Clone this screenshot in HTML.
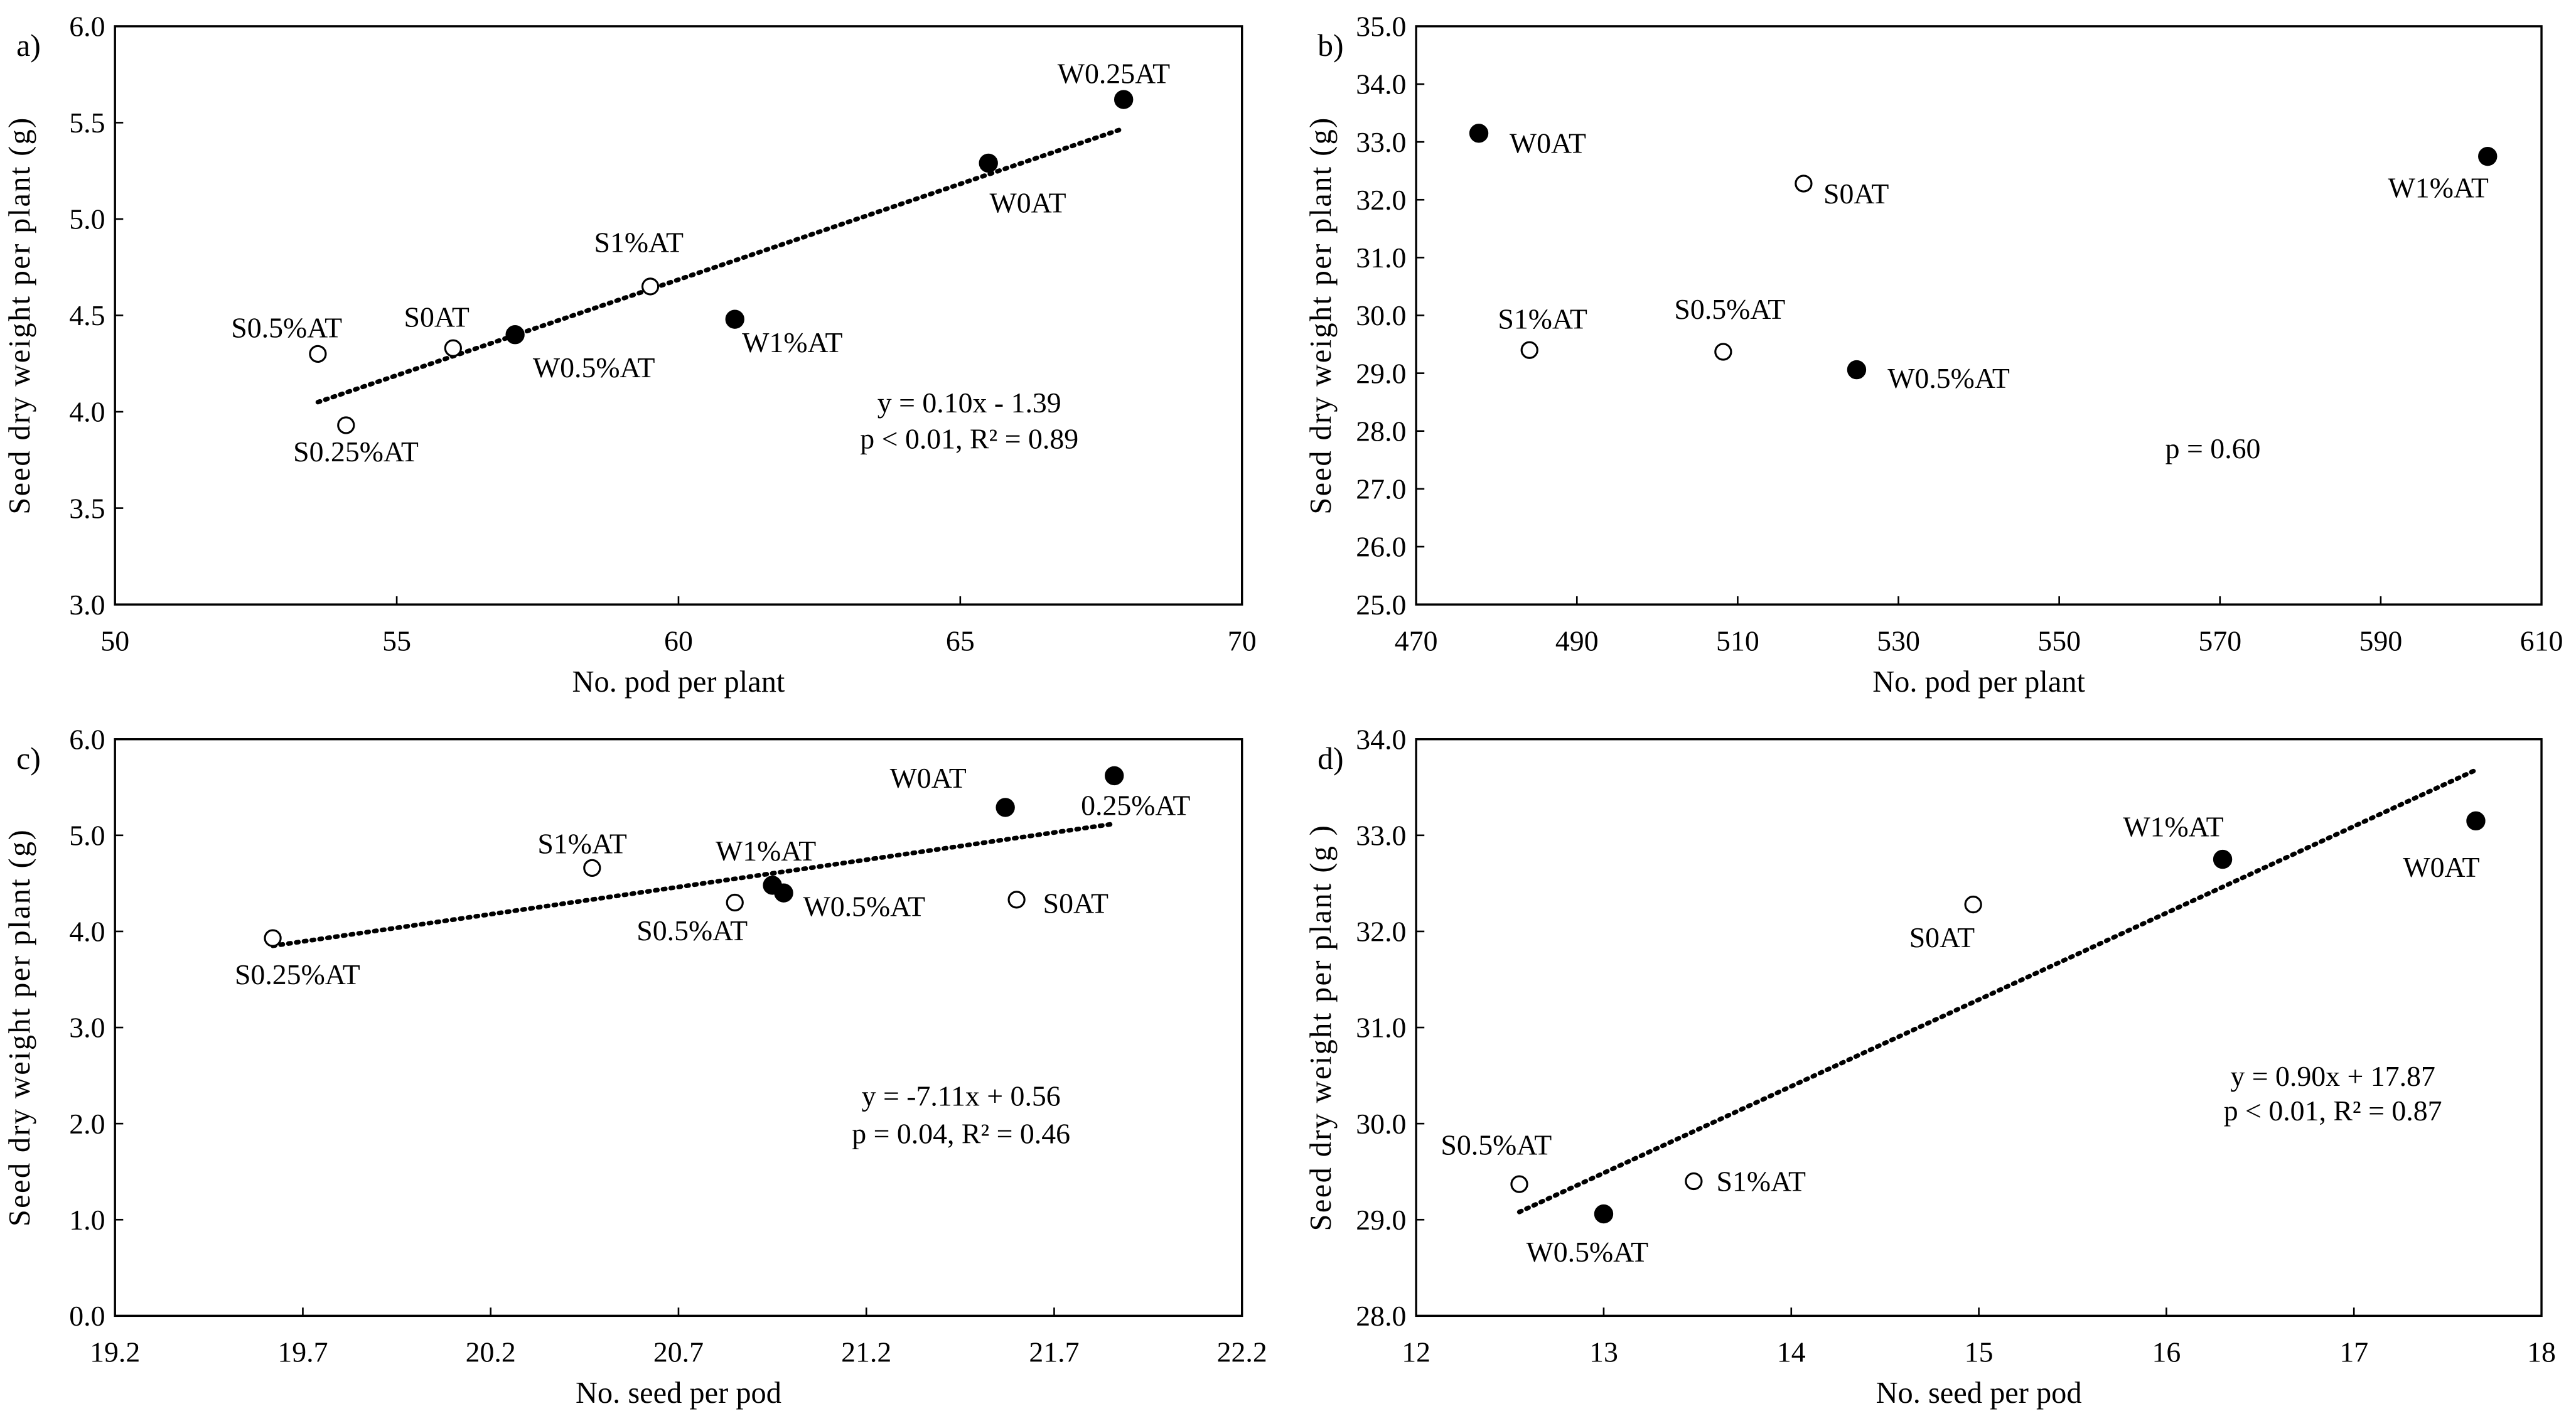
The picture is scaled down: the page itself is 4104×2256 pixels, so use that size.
<!DOCTYPE html>
<html><head><meta charset="utf-8"><style>
html,body{margin:0;padding:0;background:#fff;}
svg{display:block;}
text{font-family:"Liberation Serif",serif;fill:#000;}
</style></head><body>
<svg id="fig" width="4104" height="2256" viewBox="0 0 1568 862" preserveAspectRatio="none" xmlns="http://www.w3.org/2000/svg"></svg>
<script>
// Panel a data
const aNames=["S0.5%AT","S0.25%AT","S0AT","W0.5%AT","S1%AT","W1%AT","W0AT","W0.25AT"];
const aX=[53.6,54.1,56.0,57.1,59.5,61.0,65.5,67.9];
const aY=[4.30,3.93,4.33,4.40,4.65,4.48,5.29,5.62];
const aFilled=[0,0,0,1,0,1,1,1];
const aTrendX=[53.6,67.9];
const aTrendY=[4.05,5.47];
const aXTicks=[50,55,60,65,70];
const aYTicks=[3.0,3.5,4.0,4.5,5.0,5.5,6.0];
// Panel b data
const bNames=["W0AT","S1%AT","S0.5%AT","S0AT","W0.5%AT","W1%AT"];
const bX=[477.8,484.1,508.2,518.2,524.8,603.3];
const bY=[33.15,29.4,29.37,32.28,29.06,32.75];
const bFilled=[1,0,0,0,1,1];
const bXTicks=[470,490,510,530,550,570,590,610];
const bYTicks=[25,26,27,28,29,30,31,32,33,34,35];
// Panel c data
const cNames=["S0.25%AT","S1%AT","S0.5%AT","W1%AT","W0.5%AT","W0AT","0.25%AT","S0AT"];
const cX=[19.62,20.47,20.85,20.95,20.98,21.57,21.86,21.60];
const cY=[3.93,4.66,4.30,4.48,4.40,5.29,5.62,4.33];
const cFilled=[0,0,0,1,1,1,1,0];
const cTrendX=[19.62,21.86];
const cTrendY=[3.85,5.12];
const cXTicks=[19.2,19.7,20.2,20.7,21.2,21.7,22.2];
const cYTicks=[0,1,2,3,4,5,6];
// Panel d data
const dNames=["S0.5%AT","W0.5%AT","S1%AT","S0AT","W1%AT","W0AT"];
const dX=[12.55,13.0,13.48,14.97,16.3,17.65];
const dY=[29.37,29.06,29.4,32.28,32.75,33.15];
const dFilled=[0,1,0,0,1,1];
const dTrendX=[12.55,17.65];
const dTrendY=[29.08,33.68];
const dXTicks=[12,13,14,15,16,17,18];
const dYTicks=[28,29,30,31,32,33,34];

const NS="http://www.w3.org/2000/svg";
const svg=document.getElementById('fig');
function mk(tag,attrs,parent,txt){const e=document.createElementNS(NS,tag);for(const k in attrs)e.setAttribute(k,attrs[k]);if(txt!==undefined)e.textContent=txt;(parent||svg).appendChild(e);return e;}

function panel(cfg){
  const g=mk('g',{});
  
  
  const L=cfg.box[0],R=cfg.box[1],T=cfg.box[2],B=cfg.box[3];
  const xs=v=>L+(v-cfg.xr[0])/(cfg.xr[1]-cfg.xr[0])*(R-L);
  const ys=v=>B-(v-cfg.yr[0])/(cfg.yr[1]-cfg.yr[0])*(B-T);
  const frame=mk('rect',{x:L,y:T,width:R-L,height:B-T,fill:'none',stroke:'#000','stroke-width':1.3},g);
  
  
  cfg.xt.forEach(v=>{
    const x=xs(v);
    mk('line',{x1:x,y1:B,x2:x,y2:B-5,stroke:'#000','stroke-width':1},g);
    const t=mk('text',{x:x,y:B+28,'text-anchor':'middle','font-size':17.5},g,cfg.xfmt(v));
    
    
  });
  cfg.yt.forEach(v=>{
    const y=ys(v);
    mk('line',{x1:L,y1:y,x2:L+5,y2:y,stroke:'#000','stroke-width':1},g);
    const t=mk('text',{x:L-6,y:y+6,'text-anchor':'end','font-size':17.5},g,v.toFixed(1));
    
    
  });
  const xt=mk('text',{x:(L+R)/2,y:B+53,'text-anchor':'middle','font-size':18.5},g,cfg.xtitle);
  
  
  const cy=(T+B)/2;
  const yt=mk('text',{x:L-52,y:cy,'text-anchor':'middle','font-size':18.5,'letter-spacing':'0.9',transform:'rotate(-90 '+(L-52)+' '+cy+')'},g,cfg.ytitle);
  
  
  const pl=mk('text',{x:L-60,y:T+18,'font-size':19},g,cfg.id+')');
  
  
  if(cfg.tx){
    const tl=mk('line',{x1:xs(cfg.tx[0]),y1:ys(cfg.ty[0]),x2:xs(cfg.tx[1]),y2:ys(cfg.ty[1]),stroke:'#000','stroke-width':2.8,'stroke-dasharray':'1.4 3.4','stroke-linecap':'round'},g);
    
    
  }
  cfg.x.forEach((v,i)=>{
    const px=xs(v),py=ys(cfg.y[i]);
    const c=mk('circle',{cx:px,cy:py,r:cfg.filled[i]?5.2:4.8,fill:cfg.filled[i]?'#000':'#fff',stroke:'#000','stroke-width':1.2},g);
    
    
    const o=cfg.off[i];
    const t=mk('text',{x:px+o[0],y:py+o[1]+6,'text-anchor':'middle','font-size':17.5},g,cfg.names[i]);
    
    
  });
  (cfg.notes||[]).forEach(n=>{
    const t=mk('text',{x:n[0],y:n[1],'text-anchor':'middle','font-size':17.5},g,n[2]);
    
    
  });
}
const YT="Seed dry weight per plant (g)";
panel({id:'a',box:[70,756,16,368],xr:[50,70],yr:[3,6],xt:aXTicks,yt:aYTicks,xfmt:v=>String(v),
  x:aX,y:aY,filled:aFilled,names:aNames,tx:aTrendX,ty:aTrendY,
  off:[[-19,-16],[6,16],[-10,-19],[48,20],[-7,-27],[35,14],[24,24],[-6,-16]],
  xtitle:"No. pod per plant",ytitle:YT,
  notes:[[590,251,"y = 0.10x  - 1.39"],[590,273,"p < 0.01, R² = 0.89"]]});
panel({id:'b',box:[862,1547,16,368],xr:[470,610],yr:[25,35],xt:bXTicks,yt:bYTicks,xfmt:v=>String(v),
  x:bX,y:bY,filled:bFilled,names:bNames,
  off:[[42,6],[8,-19],[4,-26],[32,6],[56,5],[-30,19]],
  xtitle:"No. pod per plant",ytitle:YT,
  notes:[[1347,279,"p = 0.60"]]});
panel({id:'c',box:[70,756,450,801],xr:[19.2,22.2],yr:[0,6],xt:cXTicks,yt:cYTicks,xfmt:v=>v.toFixed(1),
  x:cX,y:cY,filled:cFilled,names:cNames,tx:cTrendX,ty:cTrendY,
  off:[[15,22],[-6,-15],[-26,17],[-4,-21],[49,8],[-47,-18],[13,18],[36,2]],
  xtitle:"No. seed per pod",ytitle:YT,
  notes:[[585,673,"y = -7.11x  + 0.56"],[585,696,"p = 0.04, R² = 0.46"]]});
panel({id:'d',box:[862,1547,450,801],xr:[12,18],yr:[28,34],xt:dXTicks,yt:dYTicks,xfmt:v=>String(v),
  x:dX,y:dY,filled:dFilled,names:dNames,tx:dTrendX,ty:dTrendY,
  off:[[-14,-24],[-10,23],[41,0],[-19,20],[-30,-20],[-21,28]],
  xtitle:"No. seed per pod",ytitle:"Seed dry weight per plant (g )",
  notes:[[1420,661,"y = 0.90x  + 17.87"],[1420,682,"p < 0.01, R² = 0.87"]]});
</script>
</body></html>
